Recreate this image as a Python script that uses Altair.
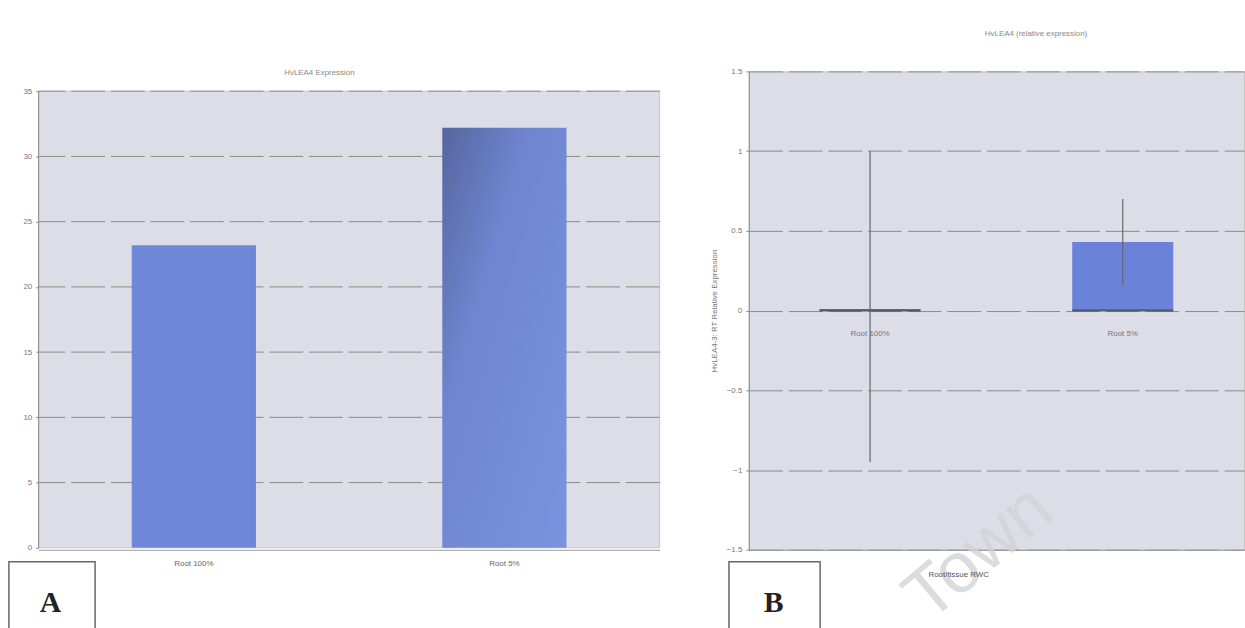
import altair as alt
import pandas as pd

# ---- data ----
cats_a = ["Root 100%", "Root 5%"]
vals_a = [23.2, 32.2]
y_ticks_a = [0, 5, 10, 15, 20, 25, 30, 35]
grid_a = [5, 10, 15, 20, 25, 30, 35]

cats_b = ["Root 100%", "Root 5%"]
vals_b = [0.01, 0.43]
err_lo_b = [-0.95, 0.16]
err_hi_b = [1.0, 0.70]
y_ticks_b = [-1.5, -1, -0.5, 0, 0.5, 1, 1.5]

title_a = "HvLEA4 Expression"
title_b = "HvLEA4 (relative expression)"
ytitle_b = "HvLEA4-3: RT Relative Expression"
xtitle_b = "Root/tissue RWC"

dfa = pd.DataFrame({"cat": cats_a, "val": vals_a})
dfga = pd.DataFrame({"g": grid_a})
dfb = pd.DataFrame({"cat": cats_b, "val": vals_b, "lo": err_lo_b, "hi": err_hi_b})
one = pd.DataFrame({"k": [0]})

WA = 627
WB, HB = 500, 483
FONT = "Liberation Sans"
GRID = "#8a8a8a"
BG = "#dcdde7"

# ---------------- Panel A ----------------
ya_scale = alt.Scale(domain=[0, 35], nice=False, range=[481, 20])
xa = alt.X("cat:N", sort=cats_a,
           scale=alt.Scale(paddingInner=0.6, paddingOuter=0.3),
           axis=alt.Axis(title=None, labelAngle=0, labelFontSize=8, labelColor="#666",
                         labelPadding=10, ticks=False, domainColor="#999", labelFont=FONT))
ya = alt.Y("val:Q", scale=ya_scale,
           axis=alt.Axis(title=None, values=y_ticks_a, labelFontSize=8, labelColor="#777",
                         grid=False, tickSize=3, tickColor="#888", domain=False,
                         labelFont=FONT, labelPadding=4))

bg_a = alt.Chart(one).mark_rect(fill=BG, stroke="#c4c4c4").encode(
    x=alt.value(0), x2=alt.value(WA),
    y=alt.Y(datum=35, type="quantitative", scale=ya_scale), y2=alt.Y2(datum=0))
grid_rules_a = alt.Chart(dfga).mark_rule(color=GRID, strokeDash=[34, 6]).encode(
    y=alt.Y("g:Q", scale=ya_scale))
dom_a = alt.Chart(one).mark_rule(color="#888").encode(
    x=alt.value(0), y=alt.Y(datum=0, type="quantitative", scale=ya_scale), y2=alt.Y2(datum=35))

base_a = alt.Chart(dfa)
bar_a1 = base_a.transform_filter(alt.datum.cat == cats_a[0]).mark_bar(color="#6e87d8").encode(x=xa, y=ya)
bar_a2 = base_a.transform_filter(alt.datum.cat == cats_a[1]).mark_bar(
    color=alt.Gradient(gradient="linear", x1=0, x2=1, y1=0, y2=1,
                       stops=[alt.GradientStop(color="#55669f", offset=0),
                              alt.GradientStop(color="#6f85cf", offset=0.35),
                              alt.GradientStop(color="#7b93e0", offset=1)])
).encode(x=xa, y=ya)

tit_a = alt.Chart(one).mark_text(fontSize=8, color="#888", font=FONT).encode(
    x=alt.value(WA / 2 - 30), y=alt.value(2), text=alt.value(title_a))
box_a = alt.Chart(one).mark_rect(fill="white", stroke="#666", strokeWidth=1.5).encode(
    x=alt.value(-30), x2=alt.value(57), y=alt.value(495), y2=alt.value(565))
lab_a = alt.Chart(one).mark_text(font="Liberation Serif", fontSize=30, fontWeight="bold",
                                 color="#222").encode(x=alt.value(12), y=alt.value(537),
                                                      text=alt.value("A"))

chart_a = alt.layer(bg_a, grid_rules_a, bar_a1, bar_a2, dom_a, tit_a, box_a, lab_a).properties(
    width=WA, height=HB,
    view=alt.ViewBackground(fill="white", strokeWidth=0))

# ---------------- Panel B ----------------
xb = alt.X("cat:N", sort=cats_b,
           scale=alt.Scale(paddingInner=0.6, paddingOuter=0.28),
           axis=alt.Axis(title=None, labels=False, ticks=False, domainColor="#999"))
yb_scale = alt.Scale(domain=[-1.5, 1.5], nice=False)
yb = alt.Y("val:Q", scale=yb_scale,
           axis=alt.Axis(title=ytitle_b, values=y_ticks_b, format="~g", labelFontSize=8,
                         labelColor="#777", grid=True, gridColor=GRID, gridDash=[34, 6],
                         tickSize=3, domainColor="#888", labelFont=FONT, labelPadding=4,
                         titleFont=FONT, titleFontSize=8, titleColor="#777",
                         titleFontWeight="normal", titlePadding=8))

base_b = alt.Chart(dfb)
bar_b = base_b.mark_bar(color="#6b82d9").encode(x=xb, y=yb)
zero_b = base_b.mark_tick(color="#333", thickness=2, size=102).encode(
    x=xb, y=alt.datum(0, type="quantitative"))
err_b = base_b.mark_rule(color="#666", strokeWidth=1.2).encode(
    x=xb, y=alt.Y("lo:Q", scale=yb_scale), y2="hi:Q")
cat_b = base_b.mark_text(fontSize=8, color="#777", font=FONT, dy=24).encode(
    x=xb, y=alt.datum(0, type="quantitative"), text="cat:N")
wm_b = alt.Chart(one).mark_text(font=FONT, fontSize=72, angle=320, color="#d4d4d4",
                                opacity=0.8).encode(x=alt.value(232), y=alt.value(HB + 3),
                                                    text=alt.value("Town"))
xt_b = alt.Chart(one).mark_text(fontSize=8, color="#555", font=FONT).encode(
    x=alt.value(212), y=alt.value(HB + 25), text=alt.value(xtitle_b))
box_b = alt.Chart(one).mark_rect(fill="white", stroke="#666", strokeWidth=1.5).encode(
    x=alt.value(-20), x2=alt.value(72), y=alt.value(HB + 12), y2=alt.value(HB + 80))
lab_b = alt.Chart(one).mark_text(font="Liberation Serif", fontSize=30, fontWeight="bold",
                                 color="#222").encode(x=alt.value(25), y=alt.value(HB + 54),
                                                      text=alt.value("B"))

chart_b = alt.layer(bar_b, zero_b, err_b, cat_b, wm_b, xt_b, box_b, lab_b).properties(
    width=WB, height=HB,
    title=alt.TitleParams(title_b, fontSize=8, color="#888", offset=30, font=FONT,
                          fontWeight="normal", anchor="middle", dx=40))

chart = alt.hconcat(chart_a, chart_b, spacing=49).properties(
    padding={"left": 8, "top": 26, "right": 0, "bottom": 0},
    background="white"
).configure_view(fill=BG, stroke="#c4c4c4")

chart.save("out.html", embed_options={"renderer": "svg", "actions": False})
